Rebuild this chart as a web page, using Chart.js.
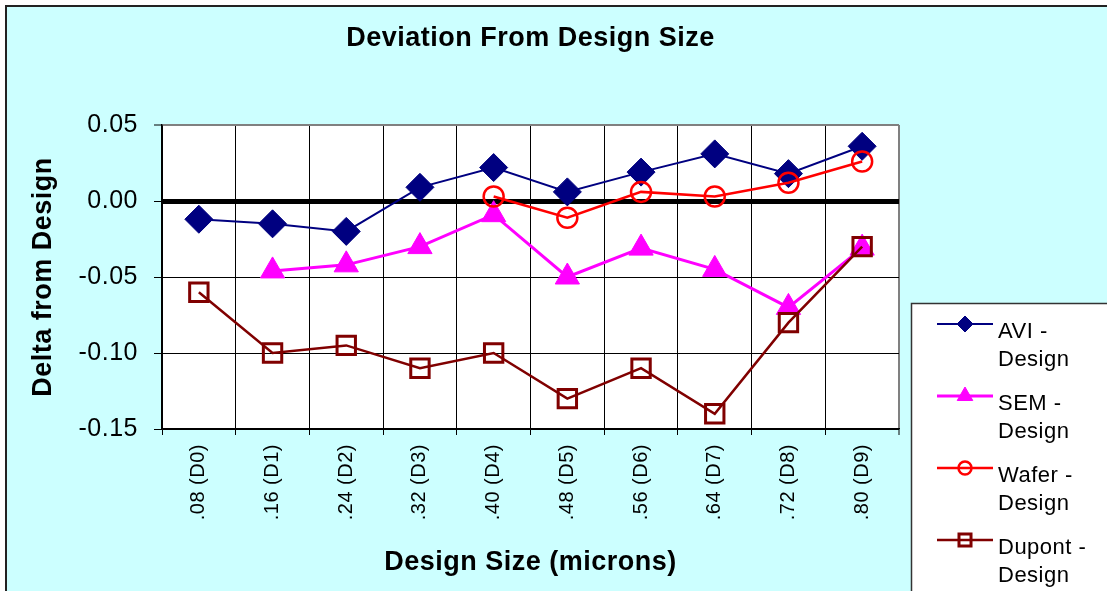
<!DOCTYPE html>
<html>
<head>
<meta charset="utf-8">
<script src="https://cdn.jsdelivr.net/npm/chart.js@4.4.1/dist/chart.umd.min.js"></script>
<style>
  html, body { margin: 0; padding: 0; background: #fff; }
  #wrap { width: 1107px; height: 591px; position: relative; }
  canvas { display: block; }
</style>
</head>
<body>
<div id="wrap"><canvas id="chart" width="1107" height="591"></canvas></div>
<script>
// Design sizes (microns) with die labels
const categories = ['.08 (D0)', '.16 (D1)', '.24 (D2)', '.32 (D3)', '.40 (D4)',
                    '.48 (D5)', '.56 (D6)', '.64 (D7)', '.72 (D8)', '.80 (D9)'];

// Measured minus design, per method
const aviDesign    = [-0.012, -0.015, -0.020, 0.009, 0.022, 0.006, 0.019, 0.031, 0.018, 0.036];
const semDesign    = [null, -0.046, -0.042, -0.030, -0.009, -0.050, -0.031, -0.045, -0.070, -0.031];
const waferDesign  = [null, null, null, null, 0.003, -0.011, 0.006, 0.003, 0.012, 0.026];
const dupontDesign = [-0.060, -0.100, -0.095, -0.110, -0.100, -0.130, -0.110, -0.140, -0.080, -0.030];

// Value axis ticks
const yTicks = [-0.15, -0.10, -0.05, 0.00, 0.05];

// Legend entries (two lines each)
const seriesNames = [['AVI -', 'Design'], ['SEM -', 'Design'], ['Wafer -', 'Design'], ['Dupont -', 'Design']];

const FONT = '"Liberation Sans", Arial, Helvetica, sans-serif';
const LETTER_SPACING = '0.5px';

// Slightly spaced lettering for all text drawn on the canvas
const textSpacing = {
  id: 'textSpacing',
  beforeLayout(chart) { chart.ctx.letterSpacing = LETTER_SPACING; },
  beforeDraw(chart) { chart.ctx.letterSpacing = LETTER_SPACING; }
};

// Cyan chart panel with a dark frame along the top and left
const panel = {
  id: 'panel',
  beforeDraw(chart) {
    const ctx = chart.ctx;
    const a = chart.chartArea;
    ctx.save();
    ctx.fillStyle = '#ffffff';
    ctx.fillRect(0, 0, chart.width, chart.height);
    ctx.fillStyle = '#CCFFFF';
    ctx.fillRect(6, 6, chart.width - 6, chart.height - 6);
    ctx.fillStyle = '#ffffff';
    ctx.fillRect(a.left, a.top, a.right - a.left, a.bottom - a.top);
    ctx.strokeStyle = '#222222';
    ctx.lineWidth = 2;
    ctx.beginPath();
    ctx.moveTo(6, chart.height);
    ctx.lineTo(6, 6);
    ctx.lineTo(chart.width, 6);
    ctx.stroke();
    ctx.restore();
  }
};

// Boxed legend with two-line labels in the lower right corner
const sideLegend = {
  id: 'sideLegend',
  afterDraw(chart) {
    const ctx = chart.ctx;
    const boxX = 911, boxY = 303;
    const lineX0 = 937, lineX1 = 993, markX = 965, textX = 998;
    const firstY = 324, step = 72, lineGap = 28;
    ctx.save();
    ctx.letterSpacing = LETTER_SPACING;
    ctx.fillStyle = '#ffffff';
    ctx.fillRect(boxX, boxY, chart.width - boxX + 10, chart.height - boxY + 10);
    ctx.strokeStyle = '#333333';
    ctx.lineWidth = 1.5;
    ctx.strokeRect(boxX + 0.5, boxY + 0.5, chart.width - boxX + 10, chart.height - boxY + 10);

    chart.data.datasets.forEach((ds, i) => {
      const y = firstY + i * step;
      ctx.strokeStyle = ds.borderColor;
      ctx.lineWidth = ds.borderWidth;
      ctx.beginPath();
      ctx.moveTo(lineX0, y);
      ctx.lineTo(lineX1, y);
      ctx.stroke();

      ctx.fillStyle = ds.pointBackgroundColor;
      ctx.strokeStyle = ds.borderColor;
      ctx.lineWidth = ds.pointBorderWidth;
      Chart.helpers.drawPoint(ctx, {
        pointStyle: ds.pointStyle,
        radius: ds.legendRadius,
        borderWidth: ds.pointBorderWidth,
        rotation: 0
      }, markX, y);

      ctx.fillStyle = '#000000';
      ctx.font = '22px ' + FONT;
      ctx.textAlign = 'left';
      ctx.textBaseline = 'alphabetic';
      seriesNames[i].forEach((t, k) => ctx.fillText(t, textX, y + 14 + k * lineGap));
    });
    ctx.restore();
  }
};

const isClose = (a, b) => Math.abs(a - b) < 1e-9;

new Chart(document.getElementById('chart'), {
  type: 'line',
  data: {
    labels: categories,
    datasets: [
      {
        label: seriesNames[0].join(' '),
        data: aviDesign,
        borderColor: '#000080',
        backgroundColor: '#000080',
        pointBackgroundColor: '#000080',
        borderWidth: 2,
        pointStyle: 'rectRot',
        pointRadius: 14,
        pointBorderWidth: 1,
        legendRadius: 8,
        order: 4
      },
      {
        label: seriesNames[1].join(' '),
        data: semDesign,
        borderColor: '#FF00FF',
        backgroundColor: '#FF00FF',
        pointBackgroundColor: '#FF00FF',
        borderWidth: 3,
        pointStyle: 'triangle',
        pointRadius: 14,
        pointBorderWidth: 1,
        legendRadius: 9,
        order: 3
      },
      {
        label: seriesNames[2].join(' '),
        data: waferDesign,
        borderColor: '#FF0000',
        backgroundColor: 'rgba(0,0,0,0)',
        pointBackgroundColor: 'rgba(0,0,0,0)',
        borderWidth: 2.5,
        pointStyle: 'circle',
        pointRadius: 10,
        pointBorderWidth: 2.5,
        legendRadius: 6.5,
        order: 2
      },
      {
        label: seriesNames[3].join(' '),
        data: dupontDesign,
        borderColor: '#800000',
        backgroundColor: 'rgba(0,0,0,0)',
        pointBackgroundColor: 'rgba(0,0,0,0)',
        borderWidth: 2.5,
        pointStyle: 'rect',
        pointRadius: 13,
        pointBorderWidth: 3,
        legendRadius: 8.5,
        order: 1
      }
    ]
  },
  options: {
    responsive: false,
    devicePixelRatio: 1,
    animation: false,
    events: [],
    layout: { padding: { left: 0, top: 0, right: 208, bottom: 0 } },
    elements: { line: { tension: 0 } },
    datasets: { line: { clip: false, spanGaps: false } },
    plugins: {
      legend: { display: false },
      tooltip: { enabled: false },
      title: {
        display: true,
        fullSize: false,
        text: 'Deviation From Design Size',
        color: '#000000',
        font: { family: FONT, size: 27, weight: 'bold', lineHeight: 1.2 },
        padding: { top: 22, bottom: 70.6 }
      }
    },
    scales: {
      x: {
        type: 'category',
        offset: true,
        grid: {
          offset: true,
          color: c => (c.index === undefined ? '#808080' : '#000000'),
          lineWidth: c => (c.index === undefined ? 2 : 1),
          tickLength: 6,
          tickColor: '#000000',
          tickWidth: 1
        },
        border: { color: '#000000', width: 1.5 },
        ticks: {
          autoSkip: false,
          minRotation: 90,
          maxRotation: 90,
          padding: 9,
          color: '#000000',
          font: { family: FONT, size: 20 }
        },
        title: {
          display: true,
          text: 'Design Size (microns)',
          color: '#000000',
          font: { family: FONT, size: 27, weight: 'bold', lineHeight: 1.2 },
          padding: { top: 0, bottom: 12 }
        },
        afterFit: s => { s.height = 162; }
      },
      y: {
        min: -0.15,
        max: 0.05,
        afterBuildTicks: s => { s.ticks = yTicks.map(v => ({ value: v })); },
        grid: {
          color: c => (c.tick && isClose(c.tick.value, 0.05) ? '#808080' : '#000000'),
          lineWidth: c => {
            if (!c.tick) return 1;
            if (isClose(c.tick.value, 0)) return 5;
            if (isClose(c.tick.value, 0.05)) return 2;
            return 1;
          },
          tickLength: 8,
          tickColor: '#000000',
          tickWidth: 1
        },
        border: { color: '#000000', width: 1.5 },
        ticks: {
          padding: 16,
          color: '#000000',
          font: { family: FONT, size: 25 },
          callback: v => Number(v).toFixed(2)
        },
        title: {
          display: true,
          text: 'Delta from Design',
          color: '#000000',
          font: { family: FONT, size: 27, weight: 'bold', lineHeight: 1.2 },
          padding: { top: 27, bottom: 0 }
        },
        afterFit: s => { s.width = 162; }
      }
    }
  },
  plugins: [textSpacing, panel, sideLegend]
});
</script>
</body>
</html>
